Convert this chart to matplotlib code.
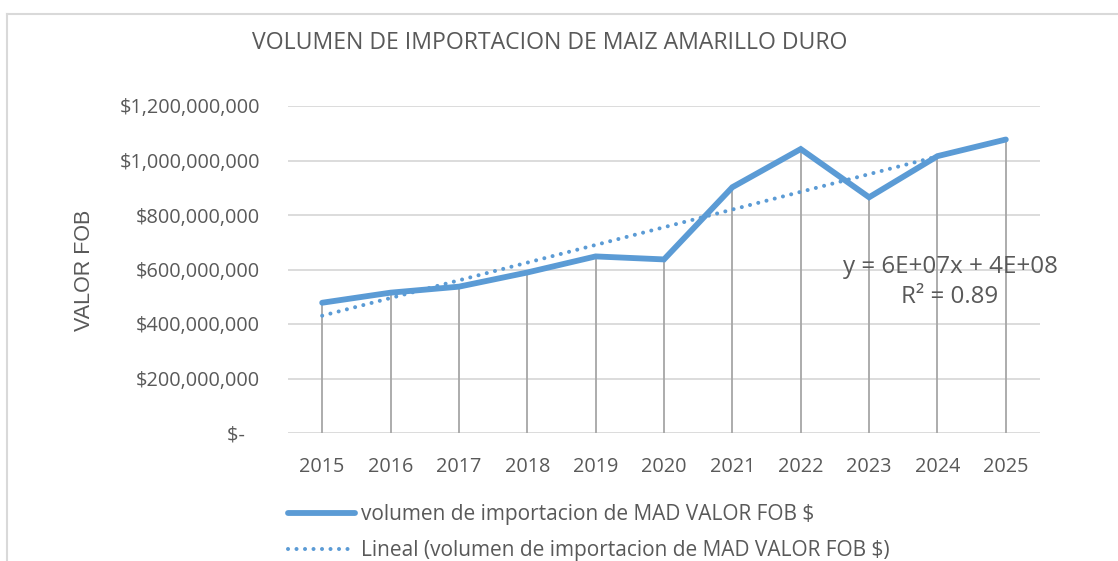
import matplotlib
matplotlib.use("Agg")
import matplotlib.pyplot as plt
import numpy as np
from matplotlib.lines import Line2D

years = ["2015", "2016", "2017", "2018", "2019", "2020", "2021", "2022", "2023", "2024", "2025"]
valor_fob = [478e6, 515e6, 537e6, 589e6, 648e6, 637e6, 902e6, 1042e6, 865e6, 1016e6, 1077e6]
y_ticks = [0, 200e6, 400e6, 600e6, 800e6, 1000e6, 1200e6]

title = "VOLUMEN DE IMPORTACION DE MAIZ AMARILLO DURO"
ylabel = "VALOR FOB"
series_label = "volumen de importacion de MAD VALOR FOB $"
trend_label = "Lineal (volumen de importacion de MAD VALOR FOB $)"

BLUE = "#5B9BD5"
TXT = "#595959"
GRID = "#D9D9D9"
DROP = "#A6A6A6"
FONT = ["Open Sans", "DejaVu Sans"]

W, H = 1118, 561
fig = plt.figure(figsize=(W / 100, H / 100), dpi=100)
fig.patch.set_facecolor("white")

# outer chart border
fig.add_artist(Line2D([7 / W, 1.0], [1 - 14 / H, 1 - 14 / H], color=GRID, lw=1.5, transform=fig.transFigure))
fig.add_artist(Line2D([7 / W, 7 / W], [1 - 14 / H, 0.0], color=GRID, lw=1.5, transform=fig.transFigure))

left, right = 288 / W, 1040 / W
bottom, top = 1 - 433 / H, 1 - 106 / H
ax = fig.add_axes([left, bottom, right - left, top - bottom])

x = np.arange(1, len(years) + 1)
y = np.array(valor_fob)

ax.set_xlim(0.5, len(years) + 0.5)
ax.set_ylim(y_ticks[0], y_ticks[-1])

for yt in y_ticks:
    ax.axhline(yt, color=GRID, lw=1.3, zorder=1)

# drop lines
ax.vlines(x, 0, y, color=DROP, lw=1.3, zorder=2)

# main series
ax.plot(x, y, color=BLUE, lw=4.2, solid_capstyle="round", solid_joinstyle="miter", zorder=4, label=series_label)

# linear trend (Excel-style, x = 1..n)
coef = np.polyfit(x, y, 1)
fit = np.polyval(coef, x)
r2 = 1 - np.sum((y - fit) ** 2) / np.sum((y - y.mean()) ** 2)
ax.plot(x, fit, color=BLUE, lw=2.9, linestyle=(0, (0.01, 2.1)), dash_capstyle="round", zorder=3, label=trend_label)

for s in ax.spines.values():
    s.set_visible(False)

ax.set_xticks(x)
ax.set_xticklabels(years)
ax.set_yticks(y_ticks)
ax.set_yticklabels(["$-   " if v == 0 else "${:,.0f}".format(v) for v in y_ticks])
ax.tick_params(axis="both", length=0, labelsize=14.3, labelcolor=TXT)
ax.tick_params(axis="x", pad=17)
ax.tick_params(axis="y", pad=20)
for lab in ax.get_xticklabels() + ax.get_yticklabels():
    lab.set_family(FONT)

fig.text(550 / W, 1 - 43 / H, title, ha="center", va="center", fontsize=16.6, color=TXT, family=FONT)
fig.text(85 / W, 1 - 270 / H, ylabel, ha="center", va="center", rotation=90, fontsize=15.5, color=TXT,
         family=["Liberation Sans", "DejaVu Sans"])

eq = "y = {:.0E}x + {:.0E}\nR² = {:.2f}".format(coef[0], coef[1], r2)
fig.text(950 / W, 1 - 282 / H, eq, ha="center", va="center", fontsize=17.4, color=TXT, family=FONT,
         linespacing=1.3, zorder=5)

leg = fig.legend(loc="upper left", bbox_to_anchor=(288 / W, 1 - 504 / H), frameon=False,
                 prop={"family": FONT, "size": 15}, labelcolor=TXT, handlelength=3.2,
                 handletextpad=0.3, labelspacing=0.72, borderpad=0, borderaxespad=0)

fig.savefig("out.png", dpi=100, facecolor="white")
